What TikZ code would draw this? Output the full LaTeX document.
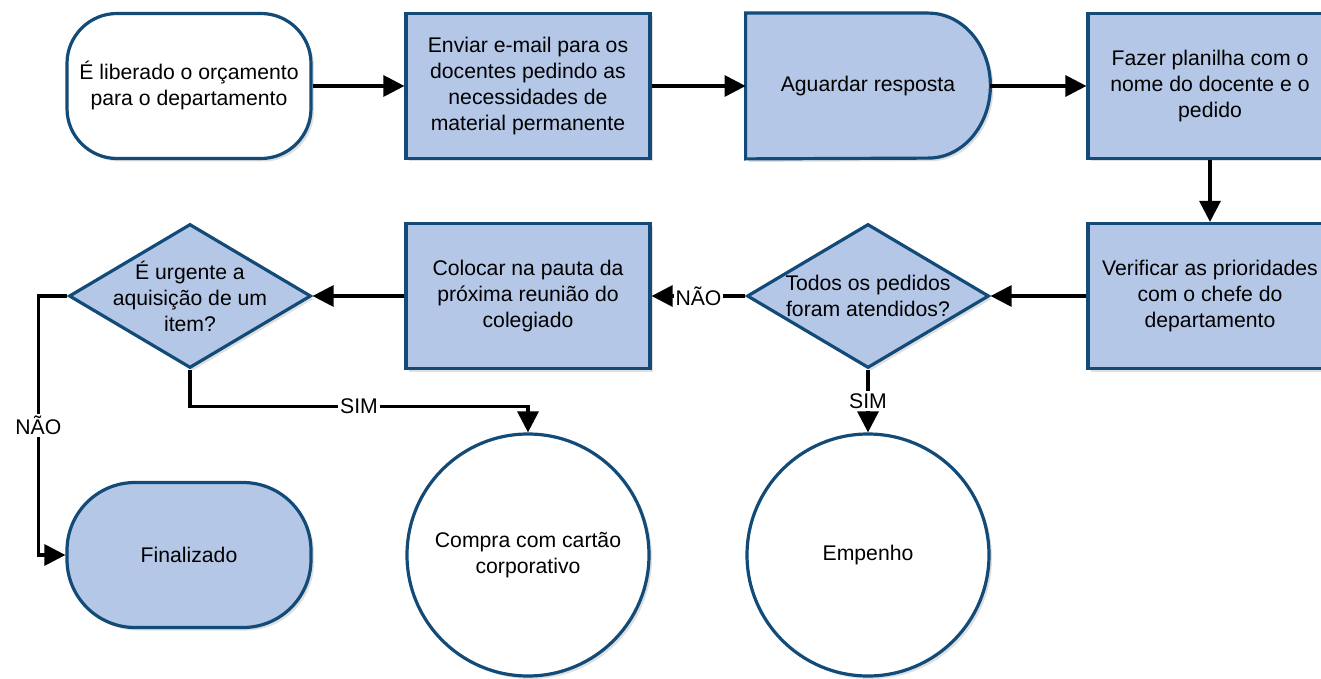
\documentclass[tikz,border=0pt]{standalone}
\usepackage{fontspec}
\setmainfont{Liberation Sans}
\usetikzlibrary{arrows.meta,shapes.geometric,shadows,backgrounds}
\definecolor{azulclaro}{RGB}{180,199,231}
\definecolor{azulborda}{RGB}{18,74,120}

\begin{document}
\begin{tikzpicture}[x=0.5pt,y=-0.5pt,font=\fontsize{10.6}{13}\selectfont,align=center,
  sombra/.style={drop shadow={shadow xshift=1.5pt,shadow yshift=-1.5pt,opacity=0.25}},
  caixa/.style={rectangle,draw=azulborda,line width=1.6pt,fill=azulclaro,minimum width=122pt,minimum height=72.5pt,sombra},
  terminal/.style={caixa,rounded corners=#1},
  decisao/.style={diamond,draw=azulborda,line width=1.6pt,fill=azulclaro,minimum width=121pt,minimum height=72pt,inner sep=0pt,sombra},
  conector/.style={circle,draw=azulborda,line width=1.6pt,fill=white,minimum size=121pt,sombra},
  seta/.style={line width=1.6pt,-{Triangle[length=10.5pt,width=10.5pt]}},
  rotulo/.style={fill=white,inner sep=1pt}]
\useasboundingbox (0,0) rectangle (1321,679);

% primeira linha
\node[terminal=25pt,fill=white] (ini) at (189,86) {É liberado o orçamento\\para o departamento};
\node[caixa] (envio) at (528,86) {Enviar e-mail para os\\docentes pedindo as\\necessidades de\\material permanente};
\node[minimum width=122pt,minimum height=72.5pt] (espera) at (868,86) {Aguardar resposta};
\node[caixa] (planilha) at (1210,86) {Fazer planilha com o\\nome do docente e o\\pedido};
\begin{scope}[on background layer]
\draw[draw=azulborda,line width=1.6pt,fill=azulclaro,sombra] (espera.north west) -- ([xshift=-31pt]espera.north east)
  arc[start angle=90,end angle=-90,x radius=31pt,y radius=36.25pt] -- (espera.south west) -- cycle;
\end{scope}

% segunda linha
\node[caixa] (verif) at (1210,296) {Verificar as prioridades\\com o chefe do\\departamento};
\node[decisao,label=center:{Todos os pedidos\\foram atendidos?}] (todos) at (868,296) {};
\node[caixa] (pauta) at (528,296) {Colocar na pauta da\\próxima reunião do\\colegiado};
\node[decisao,label=center:{É urgente a\\aquisição de um\\item?}] (urgente) at (190,296) {};

% terceira linha
\node[terminal=34pt] (fim) at (189,555) {Finalizado};
\node[conector] (cartao) at (528,555) {Compra com cartão\\corporativo};
\node[conector] (empenho) at (868,555) {Empenho};

\draw[seta] (ini) -- (envio);
\draw[seta] (envio) -- (espera);
\draw[seta] (espera) -- (planilha);
\draw[seta] (planilha) -- (verif);
\draw[seta] (verif) -- (todos);
\draw[seta] (todos) -- node[rotulo]{NÃO} (pauta);
\draw[seta] (todos) -- node[rotulo]{SIM} (empenho);
\draw[seta] (pauta) -- (urgente);
\draw[seta] (urgente.south) -- ++(0,37) -| node[rotulo,pos=0.25]{SIM} (cartao.north);
\draw[seta] (urgente.west) -- ++(-29,0) |- node[rotulo,pos=0.25]{NÃO} (fim.west);
\end{tikzpicture}
\end{document}
